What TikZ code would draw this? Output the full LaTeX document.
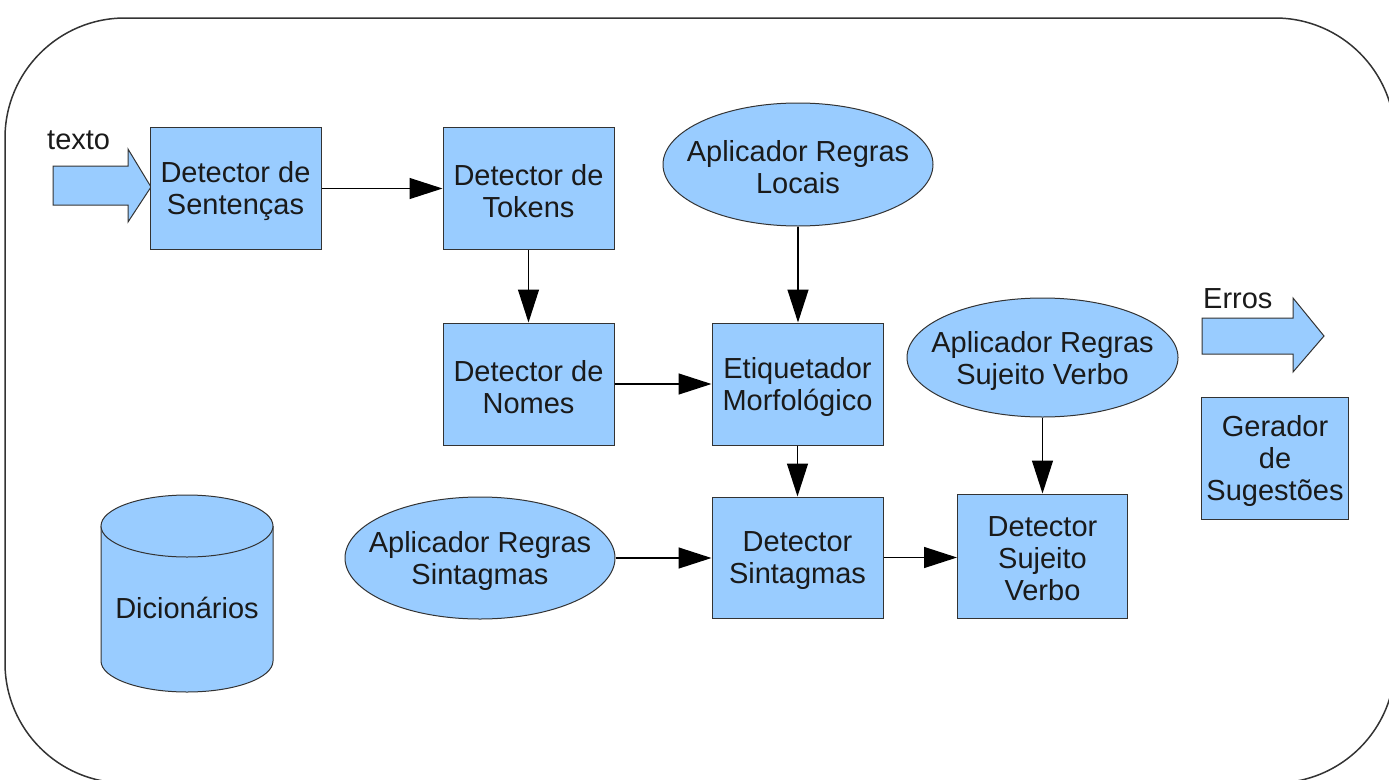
\documentclass[tikz,border=0pt]{standalone}
\usepackage{fontspec}
\setmainfont{Liberation Sans}
\usetikzlibrary{shapes.geometric,arrows.meta}
\definecolor{boxfill}{HTML}{99CCFF}
\definecolor{boxline}{HTML}{333333}
\definecolor{txt}{HTML}{1A1A1A}
\tikzset{
  every node/.style={font=\fontsize{29}{32}\selectfont, text=txt},
  intext/.style={align=center, inner sep=0pt, yshift=-3pt},
  procbox/.style={draw=boxline, fill=boxfill, line width=1pt, rectangle, inner sep=0pt,
    minimum width=171pt, minimum height=122pt, label={[intext]center:{#1}}},
  rulebox/.style={draw=boxline, fill=boxfill, line width=1pt, ellipse, inner sep=0pt,
    minimum width=270pt, minimum height=122pt, label={[intext]center:{#1}}},
  conn/.style={draw=black, line width=1.3pt, -{Triangle[length=33pt,width=21pt]}},
  blockarrow/.style={draw=boxline, fill=boxfill, line width=1pt, line join=miter},
  freelbl/.style={inner sep=0pt, anchor=base west}
}
\begin{document}
\begin{tikzpicture}[x=1pt,y=-1pt]
\useasboundingbox (0,0) rectangle (1389,779);
\clip (0,0) rectangle (1389,779);
\draw[boxline, line width=1.5pt, rounded corners=120pt] (5,18) rectangle (1395,783);

% block arrows
\draw[blockarrow] (53,166) -- (128,166) -- (128,149) -- (151,187) -- (128,222) -- (128,205) -- (53,205) -- cycle;
\node[freelbl] (texto) at (47,149) {texto};
\draw[blockarrow] (1202,318) -- (1293,318) -- (1293,298) -- (1324,336) -- (1293,372) -- (1293,354) -- (1202,354) -- cycle;
\node[freelbl] (erros) at (1203,308) {Erros};

% nodes
\node[procbox={Detector de\\Sentenças}] (sent) at (235.5,188.5) {};
\node[procbox={Detector de\\Tokens}] (tok) at (528.5,188.5) {};
\node[rulebox={Aplicador Regras\\Locais}, minimum height=123pt] (loc) at (798,164.5) {};
\node[procbox={Detector de\\Nomes}] (nom) at (528.5,384) {};
\node[procbox={Etiquetador\\Morfológico}] (eti) at (797.5,384) {};
\node[procbox={Detector\\Sintagmas}, minimum height=121pt] (dsin) at (797.5,557.5) {};
\node[rulebox={Aplicador Regras\\Sintagmas}] (asin) at (480,558) {};
\node[rulebox={Aplicador Regras\\Sujeito Verbo}, minimum width=271pt, minimum height=119pt] (asv) at (1042.5,357.5) {};
\node[procbox={Detector\\Sujeito\\Verbo}, minimum width=170pt, minimum height=124pt] (dsv) at (1042.5,556) {};
\node[procbox={Gerador\\de\\Sugestões}, minimum width=147pt] (ger) at (1275,458) {};

% database cylinder
\fill[boxfill] (101,526) -- (101,661) arc[start angle=180, end angle=360, x radius=86pt, y radius=31pt] -- (273,526) -- cycle;
\draw[boxline, line width=1pt] (101,526) -- (101,661) arc[start angle=180, end angle=360, x radius=86pt, y radius=31pt] -- (273,526);
\draw[boxline, line width=1pt, fill=boxfill] (187,526) ellipse[x radius=86pt, y radius=31pt];
\node[inner sep=0pt] (dic) at (187,608) {Dicionários};

% connectors
\draw[conn] (sent.east) -- (tok.west);
\draw[conn] (tok.south) -- (nom.north);
\draw[conn] (loc.south) -- (loc.south |- eti.north);
\draw[conn] (nom.east) -- (eti.west);
\draw[conn] (eti.south) -- (dsin.north);
\draw[conn] (asin.east) -- (asin.east -| dsin.west);
\draw[conn] (dsin.east) -- (dsin.east -| dsv.west);
\draw[conn] (asv.south) -- (asv.south |- dsv.north);
\end{tikzpicture}
\end{document}
